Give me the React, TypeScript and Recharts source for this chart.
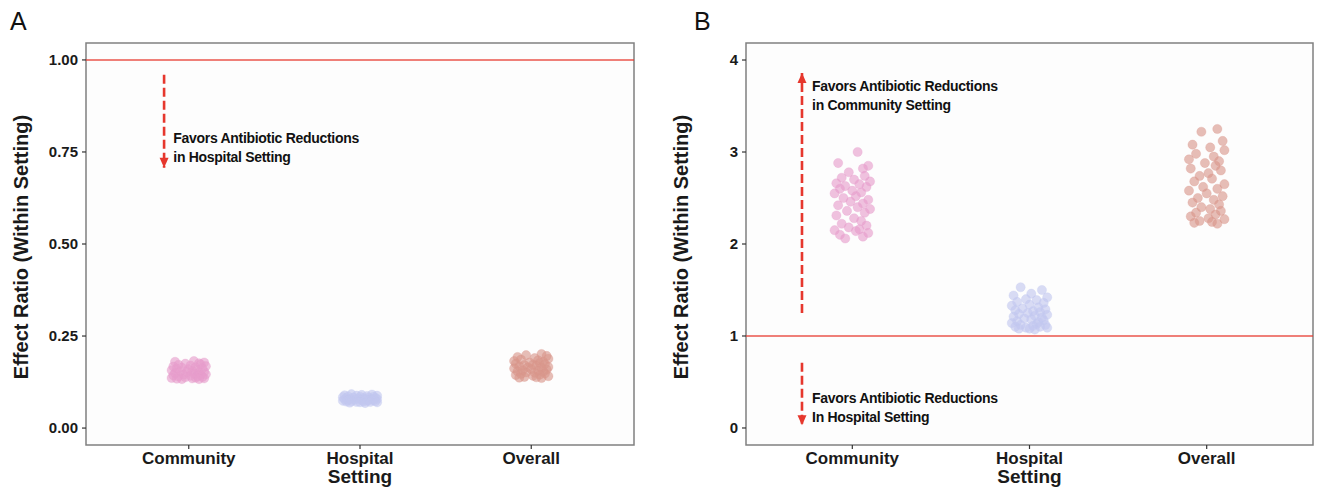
import {
  ReferenceArea,
  ReferenceDot,
  ReferenceLine,
  Scatter,
  ScatterChart,
  XAxis,
  YAxis,
} from "recharts";

// categories on the x axis (numeric positions 1..3 so points can be jittered)
const categories = ["Community", "Hospital", "Overall"];
const categoryTicks = [1, 2, 3];

// hand-read horizontal jitter (category units) for each column of points
const jitterCommunity = [0.03, -0.08, 0.09, 0.06, -0.02, 0.07, -0.06, 0.01, 0.1, -0.09, 0.04, -0.04, 0.08, -0.07, 0.0, 0.05, -0.1, 0.02, -0.05, 0.09, -0.01, 0.06, -0.08, 0.03, 0.1, -0.03, 0.07, -0.09, 0.01, 0.05, -0.06, 0.08, -0.02, 0.04, -0.1, 0.02, 0.09, -0.07, 0.06, -0.04];
const jitterHospital = [-0.05, 0.07, 0.01, -0.09, 0.1, -0.02, 0.04, -0.07, 0.08, 0.0, -0.1, 0.05, -0.04, 0.09, -0.08, 0.02, 0.06, -0.01, -0.06, 0.1, 0.03, -0.09, 0.07, -0.03, 0.01, 0.08, -0.07, 0.05, -0.1, 0.04, 0.09, -0.05, 0.02, -0.08, 0.06, -0.02, 0.1, 0.0, -0.06, 0.03];
const jitterOverall = [0.06, -0.03, 0.09, -0.08, 0.02, 0.1, -0.06, 0.04, -0.1, 0.07, -0.01, 0.05, -0.09, 0.08, 0.01, -0.04, 0.03, -0.07, 0.1, -0.02, 0.06, -0.1, 0.0, 0.09, -0.05, 0.04, -0.08, 0.07, -0.03, 0.02, 0.08, -0.06, 0.05, -0.09, 0.01, 0.1, -0.04, 0.03, -0.07, 0.06];

// Panel A: effect ratio, favouring hospital
const aCommunity = [0.182, 0.18, 0.178, 0.176, 0.175, 0.173, 0.172, 0.17, 0.168, 0.167, 0.165, 0.164, 0.162, 0.161, 0.16, 0.158, 0.157, 0.156, 0.154, 0.153, 0.152, 0.15, 0.149, 0.148, 0.146, 0.145, 0.144, 0.143, 0.142, 0.141, 0.14, 0.139, 0.138, 0.137, 0.136, 0.135, 0.135, 0.134, 0.133, 0.133];
const aHospital = [0.092, 0.091, 0.09, 0.089, 0.088, 0.088, 0.087, 0.086, 0.085, 0.085, 0.084, 0.083, 0.083, 0.082, 0.081, 0.081, 0.08, 0.08, 0.079, 0.079, 0.078, 0.078, 0.077, 0.077, 0.076, 0.076, 0.075, 0.075, 0.074, 0.074, 0.073, 0.073, 0.072, 0.072, 0.071, 0.071, 0.07, 0.07, 0.069, 0.068];
const aOverall = [0.201, 0.198, 0.196, 0.193, 0.19, 0.188, 0.186, 0.184, 0.182, 0.18, 0.178, 0.177, 0.175, 0.174, 0.172, 0.171, 0.169, 0.168, 0.166, 0.165, 0.163, 0.162, 0.16, 0.159, 0.157, 0.156, 0.154, 0.153, 0.151, 0.15, 0.148, 0.147, 0.145, 0.144, 0.142, 0.141, 0.139, 0.138, 0.137, 0.136];

// Panel B: effect ratio, favouring community
const bCommunity = [3.0, 2.88, 2.85, 2.82, 2.78, 2.74, 2.72, 2.7, 2.68, 2.66, 2.65, 2.63, 2.62, 2.6, 2.58, 2.56, 2.55, 2.52, 2.5, 2.48, 2.46, 2.44, 2.42, 2.4, 2.38, 2.36, 2.34, 2.31, 2.28, 2.25, 2.22, 2.2, 2.18, 2.16, 2.15, 2.14, 2.12, 2.1, 2.08, 2.06];
const bHospital = [1.53, 1.5, 1.46, 1.44, 1.42, 1.4, 1.39, 1.37, 1.36, 1.34, 1.33, 1.31, 1.3, 1.29, 1.28, 1.27, 1.26, 1.25, 1.24, 1.23, 1.22, 1.21, 1.2, 1.19, 1.18, 1.17, 1.16, 1.15, 1.14, 1.13, 1.12, 1.12, 1.11, 1.1, 1.1, 1.09, 1.09, 1.08, 1.08, 1.07];
const bOverall = [3.25, 3.22, 3.12, 3.08, 3.05, 3.02, 2.98, 2.95, 2.92, 2.9, 2.88, 2.85, 2.82, 2.8, 2.77, 2.74, 2.71, 2.68, 2.65, 2.62, 2.6, 2.58, 2.55, 2.52, 2.5, 2.48, 2.45, 2.43, 2.4, 2.38, 2.36, 2.34, 2.32, 2.3, 2.28, 2.27, 2.25, 2.24, 2.23, 2.22];

const aTicks = [0, 0.25, 0.5, 0.75, 1];
const bTicks = [0, 1, 2, 3, 4];

const colors = ["#e79ccb", "#c2c7ef", "#d9968a"];
const RED = "#e6372d";
const FONT = "'Liberation Sans', Arial, Helvetica, sans-serif";

type Arrow = { x: number; from: number; to: number };
type Note = { x: number; y: number; lines: string[] };

const toPoints = (values: number[], jitter: number[], pos: number) =>
  values.map((y, i) => ({ x: pos + jitter[i], y }));

function dot(color: string) {
  return (p: any) => (
    <circle cx={p.cx} cy={p.cy} r={4.6} fill={color} fillOpacity={0.62} stroke={color} strokeOpacity={0.35} strokeWidth={0.8} />
  );
}

function arrowHead(up: boolean) {
  return (p: any) => {
    const { cx, cy } = p;
    const d = up ? 1 : -1;
    return (
      <polygon
        points={`${cx},${cy} ${cx - 4.5},${cy + d * 10} ${cx + 4.5},${cy + d * 10}`}
        fill={RED}
      />
    );
  };
}

function noteText(lines: string[]) {
  return (p: any) => (
    <text x={p.cx} y={p.cy} fontFamily={FONT} fontWeight="bold" fontSize={14} fill="#111" letterSpacing={-0.3}>
      {lines.map((l, i) => (
        <tspan key={i} x={p.cx} dy={i === 0 ? 5 : 19}>
          {l}
        </tspan>
      ))}
    </text>
  );
}

function Panel({
  letter,
  letterX,
  left,
  width,
  rightMargin,
  domain,
  ticks,
  tickFormat,
  series,
  hline,
  arrows,
  notes,
}: {
  letter: string;
  letterX: number;
  left: number;
  width: number;
  rightMargin: number;
  domain: [number, number];
  ticks: number[];
  tickFormat: (v: number) => string;
  series: number[][];
  hline: number;
  arrows: Arrow[];
  notes: Note[];
}) {
  const jitters = [jitterCommunity, jitterHospital, jitterOverall];
  return (
    <div style={{ position: "absolute", left, top: 0, width, height: 487 }}>
      <div
        style={{
          position: "absolute",
          left: letterX,
          top: 6,
          fontFamily: FONT,
          fontSize: 25,
          color: "#111",
          lineHeight: "30px",
        }}
      >
        {letter}
      </div>
      <ScatterChart width={width} height={487} margin={{ top: 43, right: rightMargin, bottom: 0, left: 0 }}>
        <XAxis
          type="number"
          dataKey="x"
          domain={[0.4, 3.6]}
          ticks={categoryTicks}
          tickFormatter={(v: number) => categories[v - 1]}
          allowDataOverflow
          height={42}
          axisLine={false}
          tickSize={4}
          tickMargin={3}
          tickLine={{ stroke: "#333", strokeWidth: 1.2 }}
          tick={{ fill: "#1a1a1a", fontSize: 17, fontWeight: "bold", fontFamily: FONT }}
          label={{
            content: (p: any) => {
              const vb = p.viewBox;
              return (
                <text
                  x={vb.x + vb.width / 2}
                  y={vb.y + 38}
                  textAnchor="middle"
                  fontFamily={FONT}
                  fontWeight="bold"
                  fontSize={19}
                  fill="#1a1a1a"
                >
                  Setting
                </text>
              );
            },
          }}
        />
        <YAxis
          type="number"
          dataKey="y"
          domain={domain}
          ticks={ticks}
          tickFormatter={tickFormat}
          allowDataOverflow
          width={86}
          axisLine={false}
          tickSize={4}
          tickMargin={4}
          tickLine={{ stroke: "#333", strokeWidth: 1.2 }}
          tick={{ fill: "#1a1a1a", fontSize: 15, fontWeight: "bold", fontFamily: FONT }}
          label={{
            content: (p: any) => {
              const vb = p.viewBox;
              const cx = vb.x + 21;
              const cy = vb.y + vb.height / 2 + 3;
              return (
                <text
                  x={cx}
                  y={cy}
                  transform={`rotate(-90, ${cx}, ${cy})`}
                  textAnchor="middle"
                  dominantBaseline="central"
                  fontFamily={FONT}
                  fontWeight="bold"
                  fontSize={20}
                  fill="#1a1a1a"
                >
                  Effect Ratio (Within Setting)
                </text>
              );
            },
          }}
        />
        <ReferenceArea
          x1={0.4}
          x2={3.6}
          y1={domain[0]}
          y2={domain[1]}
          fill="#fdfdfd"
          fillOpacity={1}
          stroke="#808080"
          strokeWidth={1.5}
          ifOverflow="visible"
        />
        <ReferenceLine y={hline} stroke={RED} strokeWidth={1.6} strokeOpacity={0.85} />
        {arrows.map((a, i) => (
          <ReferenceLine
            key={`al${i}`}
            segment={[
              { x: a.x, y: a.from },
              { x: a.x, y: a.to },
            ]}
            stroke={RED}
            strokeWidth={2.6}
            strokeDasharray="9 4"
            ifOverflow="visible"
          />
        ))}
        {arrows.map((a, i) => (
          <ReferenceDot key={`ah${i}`} x={a.x} y={a.to} shape={arrowHead(a.to > a.from)} ifOverflow="visible" />
        ))}
        {notes.map((n, i) => (
          <ReferenceDot key={`n${i}`} x={n.x} y={n.y} shape={noteText(n.lines)} ifOverflow="visible" />
        ))}
        {series.map((vals, i) => (
          <Scatter
            key={categories[i]}
            data={toPoints(vals, jitters[i], i + 1)}
            shape={dot(colors[i])}
            isAnimationActive={false}
          />
        ))}
      </ScatterChart>
    </div>
  );
}

export default function App() {
  return (
    <div style={{ position: "fixed", left: 0, top: 0, width: 1321, height: 487, background: "#fff" }}>
      <Panel
        letter="A"
        letterX={10}
        left={0}
        width={660}
        rightMargin={26}
        domain={[-0.046, 1.046]}
        ticks={aTicks}
        tickFormat={(v) => v.toFixed(2)}
        series={[aCommunity, aHospital, aOverall]}
        hline={1}
        arrows={[{ x: 0.856, from: 0.96, to: 0.707 }]}
        notes={[{ x: 0.91, y: 0.788, lines: ["Favors Antibiotic Reductions", "in Hospital Setting"] }]}
      />
      <Panel
        letter="B"
        letterX={34}
        left={660}
        width={661}
        rightMargin={8}
        domain={[-0.185, 4.185]}
        ticks={bTicks}
        tickFormat={(v) => String(v)}
        series={[bCommunity, bHospital, bOverall]}
        hline={1}
        arrows={[
          { x: 0.716, from: 1.25, to: 3.86 },
          { x: 0.716, from: 0.71, to: 0.03 },
        ]}
        notes={[
          { x: 0.773, y: 3.72, lines: ["Favors Antibiotic Reductions", "in Community Setting"] },
          { x: 0.773, y: 0.33, lines: ["Favors Antibiotic Reductions", "In Hospital Setting"] },
        ]}
      />
    </div>
  );
}
